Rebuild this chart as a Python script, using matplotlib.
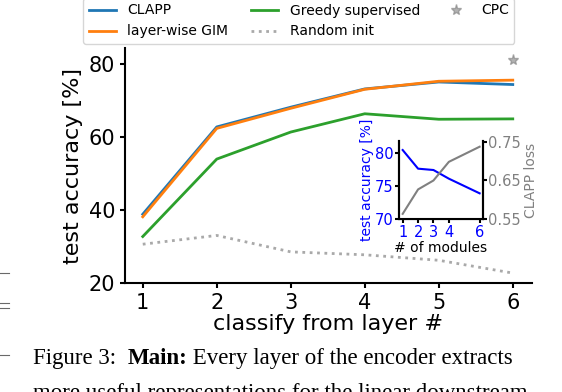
import numpy as np
import matplotlib
matplotlib.use("Agg")
from matplotlib import pyplot as plt
from matplotlib.lines import Line2D

# main panel: test accuracy per layer
layers = [1, 2, 3, 4, 5, 6]
clapp = [38.9, 62.8, 68.2, 73.2, 75.1, 74.4]
gim = [38.2, 62.4, 67.9, 73.1, 75.3, 75.6]
greedy = [32.8, 54.0, 61.4, 66.4, 64.9, 65.0]
random_init = [30.7, 33.1, 28.6, 27.8, 26.3, 22.8]
cpc_layer = [6]
cpc_acc = [81.1]

# inset: number of modules
modules = [1, 2, 3, 4, 6]
inset_acc = [80.4, 77.6, 77.4, 76.1, 73.9]
inset_loss = [0.564, 0.627, 0.650, 0.698, 0.737]

W, H = 562, 392
fig = plt.figure(figsize=(W / 100, H / 100), dpi=100)

########################################################################################################################
# main axes
ax = fig.add_axes([125 / W, 1 - 283.3 / H, 407 / W, 235.3 / H])
ax.plot(layers, clapp, c="tab:blue", lw=2, label="CLAPP")
ax.plot(layers, gim, c="tab:orange", lw=2, label="layer-wise GIM")
ax.plot(layers, greedy, c="tab:green", lw=2, label="Greedy supervised")
ax.plot(layers, random_init, c="darkgrey", lw=2, ls=":", label="Random init")
ax.plot(cpc_layer, cpc_acc, ls="none", marker="*", ms=8, c="grey", alpha=0.6, label="CPC")

ax.set_xlim(0.76, 6.26)
ax.set_ylim(20, 84.4)
ax.set_xticks(layers)
ax.set_yticks([20, 40, 60, 80])
ax.tick_params(labelsize=15, width=1.5, length=3.5)
ax.set_xlabel("classify from layer #", fontsize=16, labelpad=1)
ax.set_ylabel("test accuracy [%]", fontsize=16, labelpad=4)
for s in ["top", "right"]:
    ax.spines[s].set_visible(False)
for s in ["left", "bottom"]:
    ax.spines[s].set_linewidth(1.5)

handles, labels = ax.get_legend_handles_labels()
fig.legend(handles, labels, ncol=3, fontsize=10, loc="lower left", columnspacing=1.6,
           bbox_to_anchor=(83 / W, 1 - 44 / H), borderaxespad=0)

########################################################################################################################
# inset
ins = fig.add_axes([399.3 / W, 1 - 219.3 / H, 83.4 / W, 78.6 / H])
ins.plot(modules, inset_acc, c="blue", lw=1.5)
ins.set_xlim(0.78, 6.2)
ins.set_ylim(70, 81.8)
ins.set_xticks(modules)
ins.set_yticks([70, 75, 80])
ins.tick_params(labelsize=10.5, colors="black", labelcolor="blue", width=1.5, length=3, pad=1)
ins.set_xlabel("# of modules", fontsize=10, labelpad=1)
ins.set_ylabel("test accuracy [%]", fontsize=10, color="blue", labelpad=1)
ins.spines["top"].set_visible(False)
for s in ["left", "bottom", "right"]:
    ins.spines[s].set_linewidth(1.5)

ins2 = ins.twinx()
ins2.plot(modules, inset_loss, c="grey", lw=1.5)
ins2.set_ylim(0.55, 0.7525)
ins2.set_yticks([0.55, 0.65, 0.75])
ins2.set_yticklabels(["0.55", "0.65", "0.75"])
ins2.tick_params(labelsize=10.5, labelcolor="grey", width=1.5, length=3, pad=1)
ins2.set_ylabel("CLAPP loss", fontsize=10, color="grey", labelpad=2)
ins2.spines["top"].set_visible(False)
ins2.spines["right"].set_linewidth(1.5)
ins2.spines["left"].set_linewidth(1.5)

########################################################################################################################
# caption of the paper page
cap_size = 16.5
renderer = fig.canvas.get_renderer()
x = 33 / W
y_base = 1 - 364 / H
parts = [("Figure 3:  ", "normal"), ("Main:", "bold"), (" Every layer of the encoder extracts", "normal")]
for txt, weight in parts:
    t = fig.text(x, y_base, txt, fontsize=cap_size, family="Liberation Serif", fontweight=weight, va="baseline")
    bb = t.get_window_extent(renderer)
    x += bb.width / W
fig.text(33 / W, 1 - 399 / H, "more useful representations for the linear downstream",
         fontsize=cap_size, family="Liberation Serif", va="baseline")

# table rules peeking in from the left column
for yy in [273, 302.5, 308, 355]:
    fig.add_artist(Line2D([0, 9 / W], [1 - yy / H, 1 - yy / H], color="dimgrey", lw=0.8))

plt.savefig("out.png", dpi=100)
